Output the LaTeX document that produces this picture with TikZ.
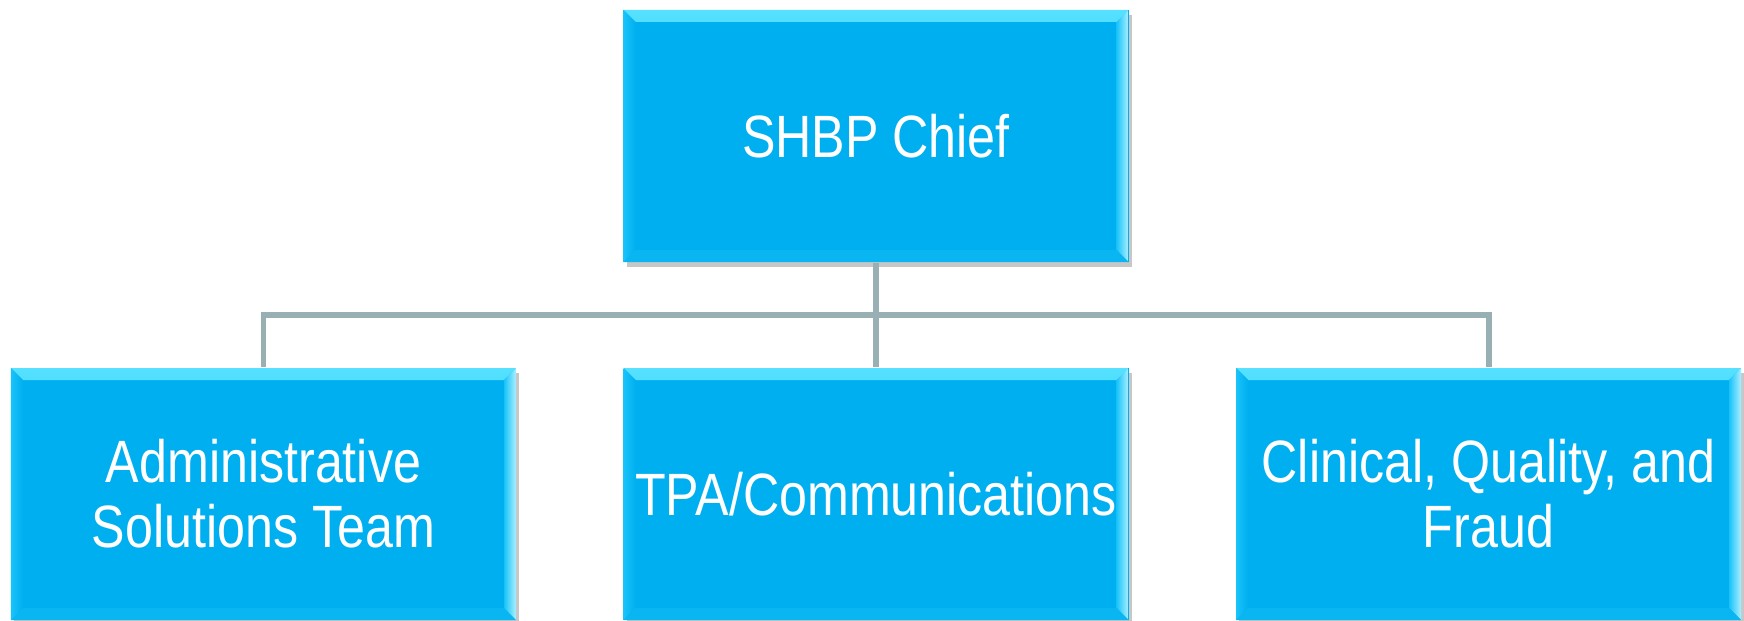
\documentclass[tikz,border=0pt]{standalone}
\usepackage{fontspec}
\usepackage{xcolor}
\newfontfamily\orgfont[FakeStretch=0.84]{Liberation Sans}
\usetikzlibrary{shadows}

\definecolor{unitblue}{RGB}{0,175,239}
\definecolor{unitlight}{RGB}{85,225,255}
\definecolor{unitside}{RGB}{25,195,250}
\definecolor{unitdark}{RGB}{10,182,242}
\definecolor{linkgrey}{RGB}{152,176,180}

\begin{document}
\begin{tikzpicture}[
    unit/.style={rectangle, fill=unitblue, minimum width=5.05cm, minimum height=2.52cm,
        inner sep=0pt, align=center, text=white,
        font=\orgfont\fontsize{17pt}{18.5pt}\selectfont,
        drop shadow={shadow xshift=0.03cm, shadow yshift=-0.05cm, opacity=0.22, fill=black},
        path picture={
            % bevel: top, right, left, bottom
            \shade[top color=unitlight, bottom color=unitblue]
                (path picture bounding box.north west) -- (path picture bounding box.north east)
                -- ([xshift=-0.12cm,yshift=-0.12cm]path picture bounding box.north east)
                -- ([xshift=0.12cm,yshift=-0.12cm]path picture bounding box.north west) -- cycle;
            \shade[left color=unitside, right color=unitlight!50!white]
                (path picture bounding box.north east) -- (path picture bounding box.south east)
                -- ([xshift=-0.12cm,yshift=0.12cm]path picture bounding box.south east)
                -- ([xshift=-0.12cm,yshift=-0.12cm]path picture bounding box.north east) -- cycle;
            \shade[left color=unitside, right color=unitblue]
                (path picture bounding box.north west) -- (path picture bounding box.south west)
                -- ([xshift=0.12cm,yshift=0.12cm]path picture bounding box.south west)
                -- ([xshift=0.12cm,yshift=-0.12cm]path picture bounding box.north west) -- cycle;
            \fill[unitdark]
                (path picture bounding box.south west) -- (path picture bounding box.south east)
                -- ([xshift=-0.12cm,yshift=0.12cm]path picture bounding box.south east)
                -- ([xshift=0.12cm,yshift=0.12cm]path picture bounding box.south west) -- cycle;
        }},
    link/.style={draw=linkgrey, line width=1.7pt},
]

% Frame
\fill[white] (0,0) rectangle (17.44,6.20);
\useasboundingbox (0,0) rectangle (17.44,6.20);

% Connectors
\coordinate (bus) at (8.76,3.05);

% Top of the chart
\node[unit] (chief) at (8.76,4.84) {SHBP Chief};

% Units
\node[unit] (admin) at (2.635,1.26) {Administrative\\Solutions Team};
\node[unit] (tpa) at (8.76,1.26) {TPA/Communications};
\node[unit] (clinical) at (14.885,1.26) {Clinical, Quality, and\\Fraud};

\draw[link] (chief.south) -- (bus);
\draw[link] (admin.north) |- (bus) -| (clinical.north);
\draw[link] (bus) -- (tpa.north);

\end{tikzpicture}
\end{document}
